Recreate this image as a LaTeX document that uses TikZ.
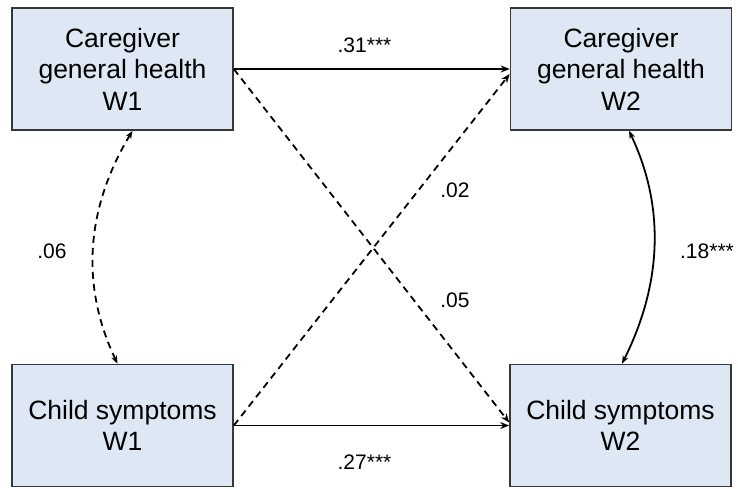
\documentclass[tikz,border=0pt]{standalone}
\usepackage{fontspec}
\setmainfont{Liberation Sans}
\usetikzlibrary{arrows.meta}
\definecolor{boxfill}{RGB}{222,232,245}
\definecolor{boxline}{RGB}{55,55,55}
\begin{document}
\begin{tikzpicture}[x=1pt,y=-1pt,
  varbox/.style={draw=boxline,fill=boxfill,line width=1.6pt,minimum width=221pt,minimum height=122pt,inner sep=0pt,align=center,font=\fontsize{26.5}{31.5}\selectfont},
  path/.style={line width=1.8pt,-{Stealth[length=9pt,width=7pt]}},
  cov/.style={line width=1.8pt,{Stealth[length=8pt,width=6pt]}-{Stealth[length=8pt,width=6pt]}},
  dsh/.style={dash pattern=on 7pt off 5pt},
  lab/.style={font=\fontsize{21}{25}\selectfont,anchor=base,inner sep=0pt}]
\useasboundingbox (0,0) rectangle (738,488);
\node[varbox] (tl) at (122.5,69) {Caregiver\\general health\\W1};
\node[varbox] (tr) at (621,69) {Caregiver\\general health\\W2};
\node[varbox] (bl) at (122.5,425.5) {Child symptoms\\W1};
\node[varbox] (br) at (620.5,425.5) {Child symptoms\\W2};
\draw[path] (tl.east) -- (tr.west);
\draw[path] (bl.east) -- (br.west);
\draw[path,dsh] (tl.east) -- ([yshift=3pt]br.west);
\draw[path,dsh] (bl.east) -- ([yshift=-5pt]tr.west);
\draw[cov,dsh] ([xshift=10pt]tl.south) .. controls +(-47,78) and +(-37,-78) .. ([xshift=-5pt]bl.north);
\draw[cov] ([xshift=8pt]tr.south) .. controls +(37,78) and +(39,-78) .. ([xshift=1.5pt]br.north);
\node[lab] (l31) at (364.5,52) {.31***};
\node[lab] (l27) at (364.5,469.5) {.27***};
\node[lab] (l02) at (455,197) {.02};
\node[lab] (l05) at (455,307) {.05};
\node[lab] (l06) at (52,258) {.06};
\node[lab] (l18) at (707,258) {.18***};
\end{tikzpicture}
\end{document}
